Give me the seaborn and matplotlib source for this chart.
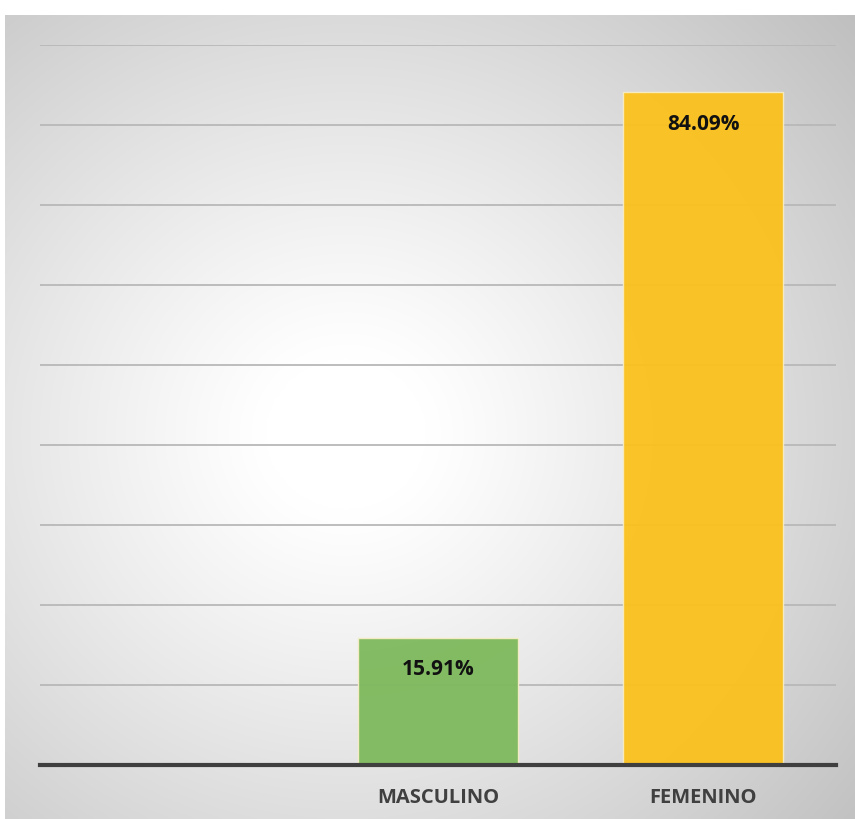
import numpy as np
import pandas as pd
import matplotlib
matplotlib.use("Agg")
import matplotlib.pyplot as plt
import seaborn as sns

categories = ["", "MASCULINO", "FEMENINO"]
values = [np.nan, 15.91, 84.09]
labels = ["", "15.91%", "84.09%"]
colors = ["#ffffff", "#7db95c", "#fbc11c"]

sns.set_style("white")
plt.rcParams["font.family"] = ["Open Sans", "DejaVu Sans"]

W, H = 855, 819
fig = plt.figure(figsize=(W / 100, H / 100), dpi=100)

# background radial gradient panel
bg = fig.add_axes([5 / W, 0, 1 - 5 / W, 1 - 15 / H])
bg.set_axis_off()
ny, nx = 400, 420
yy, xx = np.mgrid[0:ny, 0:nx]
cx, cy = nx * 0.40, ny * 0.52
r = np.sqrt(((xx - cx) / nx) ** 2 + ((yy - cy) / ny) ** 2)
r = r / r.max()
val = 1.0 - 0.25 * np.clip((r - 0.12) / 0.88, 0, 1) ** 1.1
img = np.dstack([val, val, val])
bg.imshow(img, aspect="auto", extent=[0, 1, 0, 1], interpolation="bilinear")
bg.set_xlim(0, 1)
bg.set_ylim(0, 1)

ax = fig.add_axes([40 / W, 1 - 765 / H, (836 - 40) / W, (765 - 45) / H])
ax.patch.set_alpha(0)

df = pd.DataFrame({"cat": categories, "val": values})
sns.barplot(data=df, x="cat", y="val", hue="cat", order=categories,
            palette=dict(zip(categories, colors)), legend=False,
            saturation=1, width=0.604, ax=ax, alpha=0.95,
            edgecolor="#f6ecc4", linewidth=1.0, zorder=3)

ax.set_ylim(0, 90)
ax.set_xlim(-0.5, 2.5)
ax.set_yticks(np.arange(10, 91, 10))
ax.yaxis.grid(True, color="#b8b8b8", linewidth=1.3, zorder=0)
ax.set_axisbelow(True)
ax.tick_params(axis="y", left=False, labelleft=False)
ax.tick_params(axis="x", bottom=False, pad=13)
for s in ["top", "right", "left"]:
    ax.spines[s].set_visible(False)
ax.spines["bottom"].set_color("#3f3f3f")
ax.spines["bottom"].set_linewidth(3)
ax.spines["bottom"].set_zorder(5)
ax.set_xlabel("")
ax.set_ylabel("")
ax.set_xticks(range(len(categories)))
ax.set_xticklabels(categories, fontsize=14.5, fontweight="bold", color="#404040")

for i, (v, lab) in enumerate(zip(values, labels)):
    if lab:
        ax.annotate(lab, (i, v), xytext=(0, -23), textcoords="offset points",
                    ha="center", va="center", fontsize=15,
                    fontweight="bold", color="#111111", zorder=6)

fig.savefig("out.png", dpi=100)
